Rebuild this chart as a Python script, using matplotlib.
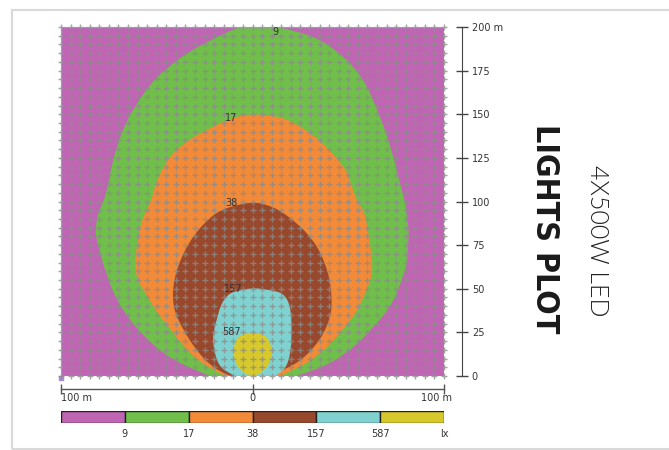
import matplotlib
matplotlib.use('Agg')
import matplotlib.pyplot as plt
import numpy as np
from matplotlib.patches import Rectangle

# illuminance bands (lx), outer -> inner
levels = ['9', '17', '38', '157', '587']

# band outlines: heights (m) and left / right edges (m)
green_y = [201, 199.4, 194.2, 185.1, 175.3, 165.6, 146.7, 127.8, 108.3, 100.8, 92.3, 84.8, 80.8,
           65.3, 56.2, 46.4, 36.7, 27.5, 17.8, 12.0, 8.0, 2.3, -2]
green_l = [-2, -8.4, -18.8, -34.5, -46, -54.8, -65.8, -72.1, -75.7, -77.5, -81.0, -81.8, -82.0,
           -78.3, -75.5, -72.1, -67, -60.6, -52, -44.9, -39, -27.7, -17]
green_r = [10, 16, 33.4, 45.4, 54.3, 60.1, 67.4, 73.1, 77.5, 79.4, 80.6, 81.5, 81.5,
           80.9, 78.3, 75.2, 70.0, 62.7, 54.3, 47, 41.8, 29.8, 16]

orange_y = [149.8, 148.8, 146.7, 137.0, 127.8, 118.0, 108.3, 100.8, 94.0, 84.8, 65.3, 56.2, 46.4,
            36.7, 27.5, 17.8, 8.0, 1.7, -2]
orange_l = [-2, -7, -13.6, -31.3, -41.8, -47.5, -51.2, -52.7, -56, -59.0, -61.6, -60.6, -55.4,
            -50.1, -43.3, -36.6, -27.7, -17.2, -11]
orange_r = [4, 12, 19.3, 33.4, 41.8, 49.1, 52, 54.3, 58.5, 60.1, 62.7, 62.1, 58.5,
            54.3, 48.0, 40.2, 29.8, 17.8, 11]

brown_y = [99.3, 97.5, 94.0, 84.8, 75.1, 65.3, 56.2, 46.4, 36.7, 27.5, 17.8, 8.0, 1.7, -2]
brown_l = [-2, -10, -18.8, -27.7, -33.9, -38.1, -40.7, -41.8, -40.7, -36.6, -31.3, -24.0, -15.7, -6]
brown_r = [3, 9, 15.7, 26.1, 33.4, 37.6, 40.2, 41.3, 41.3, 38.6, 33.4, 24.5, 12.5, 5]

cyan_y = [50.2, 49.2, 47.6, 41.8, 32.1, 22.3, 13.2, 5.2, 0.6, -2]
cyan_l = [-1, -6, -12.0, -16.2, -18.8, -20.9, -19.8, -17.2, -10.4, -6]
cyan_r = [3, 9, 15.7, 19.3, 20.4, 20.4, 19.8, 17.8, 13.1, 8]

yellow_y = [24.8, 24.0, 22.3, 16.6, 10.9, 5.2, 1.7, 0.4]
yellow_l = [-1.5, -4.5, -7.8, -9.9, -9.9, -7.8, -4.5, -1.5]
yellow_r = [1.5, 4.5, 7.8, 9.9, 9.9, 7.8, 4.5, 1.5]

# label positions (m)
label_x = [12, -11, -11, -10, -11]
label_y = [197, 148, 99, 50, 25]

purple = '#bf65b3'
colors = [purple, '#6fbf4a', '#f28a38', '#98492d', '#80d2d0', '#d7c82b']


def chaikin(x, y, n=3):
    # round the corners of a closed outline
    p = np.c_[x, y]
    for _ in range(n):
        q = np.roll(p, -1, axis=0)
        p = np.vstack([0.75 * p + 0.25 * q, 0.25 * p + 0.75 * q]).reshape(2, -1, 2).transpose(1, 0, 2).reshape(-1, 2)
    return p[:, 0], p[:, 1]


fig = plt.figure(figsize=(6.69, 4.5), dpi=100)
fig.add_artist(Rectangle((12/669, 0.002), 1.0, 0.976, transform=fig.transFigure,
                         fill=False, ec='#d9d9d9', lw=1.5))

ax = fig.add_axes([61/669, 1-376/450, 383/669, 349/450])
ax.set_xlim(-100, 100)
ax.set_ylim(0, 200)
ax.set_facecolor(purple)

bands = [(green_y, green_l, green_r), (orange_y, orange_l, orange_r),
         (brown_y, brown_l, brown_r), (cyan_y, cyan_l, cyan_r),
         (yellow_y, yellow_l, yellow_r)]
for (ys, xl, xr), c in zip(bands, colors[1:]):
    px = np.r_[xr, xl[::-1]]
    py = np.r_[ys, ys[::-1]]
    sx, sy = chaikin(px, py)
    ax.fill(sx, sy, color=c, lw=0, zorder=2)

for t, x, y in zip(levels, label_x, label_y):
    ax.text(x, y, t, fontsize=7, color='#333333', ha='center', va='center', zorder=5)

# calculation grid
gx, gy = np.meshgrid(np.arange(-100, 101, 5), np.arange(0, 201, 5))
ax.plot(gx.ravel(), gy.ravel(), '+', color='#8c8c8c', ms=5, mew=1, alpha=0.8,
        zorder=3, clip_on=False)
ax.add_patch(Rectangle((-100, 0), 200, 200, fill=False, ec='#a98bd0', lw=1, zorder=4))
ax.plot([-100], [-1], 's', color='#a98bd0', ms=3, clip_on=False)

# right scale
for s in ['left', 'top', 'bottom']:
    ax.spines[s].set_visible(False)
ax.spines['right'].set_position(('outward', 13))
ax.spines['right'].set_color('#444444')
ax.yaxis.tick_right()
ax.set_yticks(range(0, 201, 25))
ax.set_yticklabels(['0', '25', '50', '75', '100', '125', '150', '175', '200 m'])
ax.tick_params(axis='y', direction='inout', length=8, width=1, color='#444444',
               labelsize=7, labelcolor='#333333', pad=3)
ax.set_xticks([])

# bottom scale
ax.plot([-100, 100], [-7.4, -7.4], color='#555555', lw=1, clip_on=False)
ax.plot([-100, 0, 100], [-7.4] * 3, '|', color='#555555', ms=7, mew=1, clip_on=False)
ax.text(-100, -12.5, '100 m', fontsize=7, color='#333333', ha='left', va='center')
ax.text(0, -12.5, '0', fontsize=7, color='#333333', ha='center', va='center')
ax.text(104, -12.5, '100 m', fontsize=7, color='#333333', ha='right', va='center')

# legend bar
cax = fig.add_axes([61/669, 1-423/450, 383/669, 12/450])
cax.bar(range(6), [1] * 6, width=1, align='edge', color=colors, edgecolor='#222222', lw=1)
cax.set_xlim(0, 6)
cax.set_ylim(0, 1)
cax.axis('off')
for i, t in enumerate(levels + ['lx']):
    cax.text(i + 1, -0.95, t, fontsize=7, color='#333333', ha='center', va='center')

fig.text(545/669, 1-229/450, 'LIGHTS PLOT', rotation=-90, ha='center', va='center',
         fontsize=23, fontweight='bold', fontstretch='condensed', family='DejaVu Sans',
         color='#1a1a1a')
fig.text(597/669, 1-241/450, '4X500W LED', rotation=-90, ha='center', va='center',
         fontsize=18, fontweight=300, family=['Lato', 'DejaVu Sans'], color='#222222')

fig.savefig('out.png', dpi=100)
